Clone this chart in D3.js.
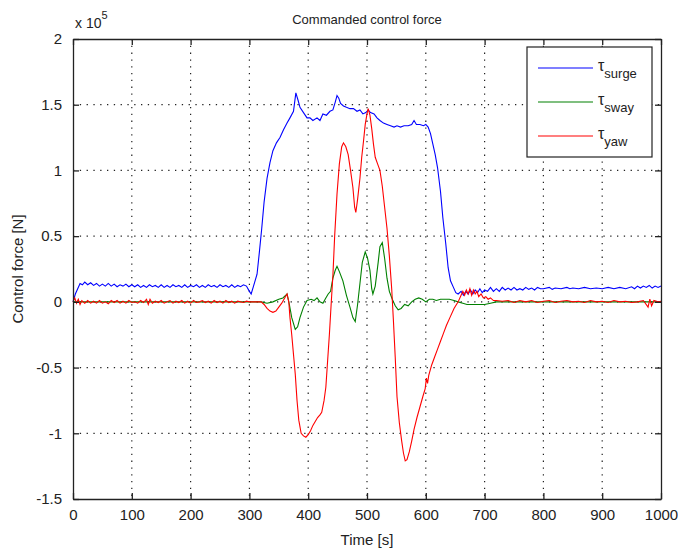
<!DOCTYPE html>
<html>
<head>
<meta charset="utf-8">
<script src="https://cdn.jsdelivr.net/npm/d3@7"></script>
<style>
  body { margin: 0; background: #fff; }
  text { font-family: Arial, "Liberation Sans", sans-serif; fill: #222; }
</style>
</head>
<body>
<div id="chart"></div>
<script>
// Values in units of 1e5 N
const surgeTime = [0,4,8,12,16,20,25,30,35,40,45,50,55,60,65,70,75,80,85,90,95,100,105,110,115,120,125,130,135,140,145,150,155,160,165,170,175,180,185,190,195,200,205,210,215,220,225,230,235,240,245,250,255,260,265,270,275,280,285,290,295,300,303,307,313,317,321,325,330,335,340,346,352,358,364,369,375,379,383,386,392,398,403,408,415,420,425,431,437,442,446,449,452,455,460,465,471,477,483,488,493,498,502,506,512,517,522,528,534,540,546,551,557,563,570,576,580,584,590,596,600,604,608,612,616,620,625,629,634,638,642,647,651,655,660,664,668,672,676,680,684,688,692,696,700,705,710,715,720,725,730,735,740,745,750,755,760,765,770,775,780,785,790,795,800,810,815,820,830,840,845,850,860,870,880,890,900,910,920,930,940,950,955,960,965,970,975,980,985,990,995,1000];
const surgeForce = [0,0.06,0.10,0.14,0.13,0.15,0.13,0.145,0.125,0.14,0.12,0.135,0.12,0.14,0.12,0.135,0.115,0.13,0.12,0.135,0.115,0.13,0.115,0.13,0.11,0.125,0.11,0.13,0.115,0.125,0.11,0.13,0.11,0.125,0.11,0.13,0.115,0.125,0.11,0.13,0.11,0.125,0.115,0.13,0.11,0.125,0.11,0.13,0.115,0.125,0.11,0.13,0.115,0.125,0.11,0.13,0.11,0.125,0.115,0.13,0.12,0.08,0.06,0.12,0.21,0.38,0.56,0.76,0.94,1.06,1.15,1.21,1.25,1.31,1.36,1.40,1.45,1.59,1.53,1.48,1.44,1.40,1.40,1.38,1.40,1.38,1.43,1.42,1.45,1.46,1.52,1.57,1.55,1.51,1.49,1.48,1.47,1.47,1.45,1.46,1.43,1.44,1.46,1.44,1.43,1.40,1.38,1.36,1.35,1.34,1.33,1.34,1.33,1.34,1.34,1.35,1.38,1.35,1.35,1.34,1.35,1.33,1.28,1.20,1.12,1.02,0.84,0.64,0.44,0.26,0.16,0.11,0.07,0.06,0.08,0.05,0.08,0.06,0.09,0.06,0.09,0.07,0.10,0.07,0.09,0.08,0.11,0.08,0.10,0.08,0.11,0.09,0.105,0.09,0.11,0.09,0.10,0.09,0.11,0.095,0.105,0.09,0.11,0.10,0.10,0.11,0.095,0.105,0.10,0.11,0.10,0.105,0.10,0.11,0.10,0.105,0.10,0.11,0.10,0.11,0.10,0.115,0.10,0.12,0.105,0.12,0.11,0.125,0.105,0.12,0.11,0.12];

const swayTime = [0,100,200,300,320,330,340,350,357,364,368,372,378,382,386,392,398,405,410,415,420,425,430,434,438,442,446,449,453,459,465,471,476,480,484,488,492,497,501,505,508,510,514,519,522,526,530,534,538,543,548,553,558,564,570,576,582,588,594,600,606,612,618,625,632,640,648,655,663,670,680,690,700,710,720,800,900,1000];
const swayForce = [0,0,0,0,0,-0.01,0,0.02,0.03,0.06,-0.02,-0.12,-0.21,-0.19,-0.12,-0.04,0.01,0.02,0.01,0.03,0,-0.01,0.03,0.06,0.08,0.18,0.24,0.27,0.23,0.16,0.05,-0.04,-0.12,-0.15,-0.02,0.14,0.30,0.38,0.33,0.24,0.10,0.06,0.12,0.30,0.42,0.45,0.33,0.18,0.08,0.02,-0.03,-0.06,-0.05,-0.02,-0.03,0,0.02,0.03,0.02,0,0.02,0.02,0.01,0.02,0.02,0.02,0.01,0,-0.01,-0.02,-0.02,-0.02,-0.02,-0.01,0,0,0,0];

const yawTime = [0,3,6,9,12,15,20,25,30,35,40,45,50,55,60,65,70,75,80,85,90,95,100,105,110,115,120,125,128,131,135,140,145,150,155,160,165,170,175,180,185,190,195,200,205,210,215,220,225,230,235,240,245,250,255,260,265,270,275,280,285,290,295,300,310,320,325,330,335,340,345,350,355,360,364,367,369,372,375,378,381,384,388,392,396,400,404,408,412,416,420,423,427,430,433,436,439,442,445,449,453,457,460,464,468,472,476,479,481,484,488,491,494,497,500,502,505,508,511,514,518,522,526,530,534,538,542,545,548,551,555,559,562,565,568,572,576,580,585,590,595,599,601,603,605,610,615,620,625,630,635,641,648,655,660,663,666,669,672,675,678,681,684,687,690,694,698,702,706,710,715,720,730,740,750,760,770,780,790,800,810,820,830,840,850,860,870,880,890,900,910,920,930,940,950,960,970,978,981,984,988,995,1000];
const yawForce = [0,0.03,-0.01,0.02,-0.02,0.01,-0.01,0.01,-0.01,0.005,-0.01,0.01,-0.01,0,-0.015,0.01,-0.005,0.01,-0.01,0.005,-0.01,0.01,-0.005,0,-0.01,0.01,-0.005,0.02,-0.02,0.02,-0.01,0.005,-0.005,0.01,-0.01,0,0.01,-0.01,0.005,-0.005,0.01,-0.01,0.005,-0.01,0.01,-0.005,0,0.01,-0.005,0.005,-0.01,0.01,-0.005,0.005,-0.01,0.01,-0.005,0.005,-0.01,0.005,0,-0.005,0.005,0,0,0,-0.02,-0.05,-0.07,-0.08,-0.07,-0.04,-0.01,0.03,0.06,0,-0.12,-0.25,-0.40,-0.55,-0.75,-0.90,-1.00,-1.02,-1.03,-1.01,-0.98,-0.94,-0.91,-0.88,-0.86,-0.84,-0.75,-0.65,-0.45,-0.25,-0.02,0.20,0.50,0.82,1.05,1.18,1.21,1.18,1.12,1.00,0.87,0.72,0.68,0.78,0.94,1.10,1.22,1.35,1.43,1.47,1.42,1.32,1.20,1.10,1.05,1.00,0.88,0.72,0.56,0.35,0.10,-0.15,-0.42,-0.72,-0.92,-1.06,-1.15,-1.21,-1.20,-1.14,-1.06,-0.97,-0.88,-0.80,-0.72,-0.66,-0.58,-0.62,-0.56,-0.48,-0.42,-0.36,-0.30,-0.24,-0.18,-0.12,-0.05,0,0.05,0.08,0.05,0.09,0.06,0.10,0.05,0.09,0.06,0.08,0.04,0.06,0.03,0.04,0.02,0.03,0.01,0.01,0.005,0.01,-0.005,0.01,0,0.01,-0.005,0.005,0.01,-0.005,0.005,0.01,0,0.005,-0.005,0.01,0,0.005,-0.005,0.01,0,0.005,-0.005,0,0.01,-0.04,0.02,-0.03,0.01,0,0.005];

const seriesNames = ["surge", "sway", "yaw"];
const seriesColors = ["#0000ff", "#008000", "#ff0000"];
const xTicks = [0,100,200,300,400,500,600,700,800,900,1000];
const yTicks = [-1.5,-1,-0.5,0,0.5,1,1.5,2];

const W = 678, H = 550;
const margin = {top: 39, right: 17, bottom: 51, left: 73};
const width = W - margin.left - margin.right;
const height = H - margin.top - margin.bottom;

const svg = d3.select("#chart").append("svg")
  .attr("width", W).attr("height", H);

const g = svg.append("g")
  .attr("transform", `translate(${margin.left},${margin.top})`);

const x = d3.scaleLinear().domain([0, 1000]).range([0, width]);
const y = d3.scaleLinear().domain([-1.5, 2]).range([height, 0]);

// Grid (dotted)
g.append("g").selectAll("line").data(xTicks.slice(1, -1)).join("line")
  .attr("x1", d => x(d)).attr("x2", d => x(d))
  .attr("y1", 0).attr("y2", height)
  .attr("stroke", "#222").attr("stroke-width", 1.2).attr("stroke-dasharray", "1.3,5.5");
g.append("g").selectAll("line").data(yTicks.slice(1, -1)).join("line")
  .attr("y1", d => y(d)).attr("y2", d => y(d))
  .attr("x1", 0).attr("x2", width)
  .attr("stroke", "#222").attr("stroke-width", 1.2).attr("stroke-dasharray", "1.3,5.5");

// Lines
const series = [
  {t: surgeTime, v: surgeForce},
  {t: swayTime, v: swayForce},
  {t: yawTime, v: yawForce}
];
const line = d3.line().x(d => x(d[0])).y(d => y(d[1]));
series.forEach((s, i) => {
  g.append("path")
    .datum(s.t.map((t, j) => [t, s.v[j]]))
    .attr("fill", "none")
    .attr("stroke", seriesColors[i])
    .attr("stroke-width", 1.1)
    .attr("d", line);
});

// Axes with inward ticks on all four sides
const fmt = d => String(d);
g.append("g").attr("transform", `translate(0,${height})`)
  .call(d3.axisBottom(x).tickValues(xTicks).tickSizeInner(-6).tickSizeOuter(0).tickPadding(10).tickFormat(fmt));
g.append("g")
  .call(d3.axisLeft(y).tickValues(yTicks).tickSizeInner(-6).tickSizeOuter(0).tickPadding(11).tickFormat(fmt));
g.append("g")
  .call(d3.axisTop(x).tickValues(xTicks).tickSizeInner(-6).tickSizeOuter(0).tickFormat(""));
g.append("g").attr("transform", `translate(${width},0)`)
  .call(d3.axisRight(y).tickValues(yTicks).tickSizeInner(-6).tickSizeOuter(0).tickFormat(""));

g.selectAll(".domain").attr("stroke", "#222").attr("stroke-width", 1.3);
g.selectAll(".tick line").attr("stroke", "#222").attr("stroke-width", 1.3);
g.selectAll(".tick text").style("font-size", "15px").style("font-family", "Arial, 'Liberation Sans', sans-serif").attr("fill", "#222");

// Exponent label
const expo = svg.append("text").attr("x", 75).attr("y", 28).style("font-size", "14px");
expo.append("tspan").text("x 10");
expo.append("tspan").attr("dy", -9).style("font-size", "11px").text("5");

// Title and axis labels
svg.append("text").attr("x", margin.left + width / 2).attr("y", 24)
  .attr("text-anchor", "middle").style("font-size", "13px").text("Commanded control force");
svg.append("text").attr("x", margin.left + width / 2).attr("y", 545)
  .attr("text-anchor", "middle").style("font-size", "15px").text("Time [s]");
svg.append("text").attr("transform", `translate(23,${margin.top + height / 2}) rotate(-90)`)
  .attr("text-anchor", "middle").style("font-size", "15px").text("Control force [N]");

// Legend
const lg = svg.append("g").attr("transform", "translate(527,47)");
lg.append("rect").attr("width", 125).attr("height", 110)
  .attr("fill", "#fff").attr("stroke", "#222").attr("stroke-width", 1.2);
seriesNames.forEach((name, i) => {
  const yy = 21 + i * 34;
  lg.append("line").attr("x1", 11).attr("x2", 66).attr("y1", yy).attr("y2", yy)
    .attr("stroke", seriesColors[i]).attr("stroke-width", 1.1);
  const t = lg.append("text").attr("x", 71).attr("y", yy + 3).style("font-size", "16px");
  t.append("tspan").text("\u03c4");
  t.append("tspan").attr("dy", 7).style("font-size", "13px").text(name);
});
</script>
</body>
</html>
